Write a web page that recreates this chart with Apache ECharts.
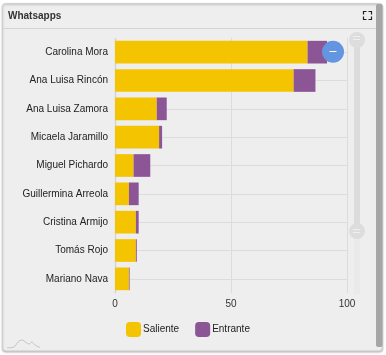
<!DOCTYPE html>
<html><head><meta charset="utf-8">
<style>html,body{margin:0;padding:0;background:#fff}#c{width:386px;height:355px}</style>
<script src="https://cdn.jsdelivr.net/npm/echarts@6/dist/echarts.min.js"></script>
</head><body><div id="c"></div>
<script>
const categories = ['Carolina Mora','Ana Luisa Rincón','Ana Luisa Zamora','Micaela Jaramillo','Miguel Pichardo','Guillermina Arreola','Cristina Armijo','Tomás Rojo','Mariano Nava'];
const saliente = [83,77,18,19,8,6,9,9,6];
const entrante = [8.4,9.4,4.3,1.3,7.2,4.2,1.2,0.4,0.3];
const xTicks = {min:0,max:100,interval:50};
const font = '"Liberation Sans", Arial, sans-serif';
const chart = echarts.init(document.getElementById('c'),null,{renderer:'canvas'});
chart.setOption({
  animation:false,
  backgroundColor:'#fff',
  textStyle:{fontFamily:font},
  title:{text:'Whatsapps',left:8,top:10,padding:0,textStyle:{fontFamily:font,fontSize:10,fontWeight:'bold',color:'#333',lineHeight:12}},
  legend:{bottom:18,left:126,padding:0,itemWidth:15,itemHeight:15,itemGap:16,selectedMode:false,
    data:['Saliente','Entrante'],
    itemStyle:{borderRadius:3},
    textStyle:{fontFamily:font,fontSize:10,color:'#222',padding:[0,0,0,-3]}},
  grid:{left:115,top:38,width:232,height:255,containLabel:false},
  xAxis:{type:'value',...xTicks,
    axisLine:{show:false},axisTick:{show:false},
    axisLabel:{fontFamily:font,fontSize:10,color:'#333',margin:6,hideOverlap:false,showMinLabel:true,showMaxLabel:true},
    splitLine:{show:true,lineStyle:{color:'#dcdcdc',width:1}}},
  yAxis:[
    {type:'category',data:categories,inverse:true,
     axisLine:{show:false},axisTick:{show:false},
     axisLabel:{fontFamily:font,fontSize:10,color:'#222',margin:7}},
    {type:'category',data:categories,inverse:true,show:false}
  ],
  dataZoom:[{type:'slider',yAxisIndex:1,filterMode:'none',start:0,end:75.7,orient:'vertical',
    left:354,width:6,top:38,bottom:62,
    showDetail:false,showDataShadow:false,brushSelect:false,moveHandleSize:0,
    realtime:false,
    backgroundColor:'#eaeaea',borderColor:'transparent',borderRadius:3,
    fillerColor:'#dcdcdc',
    handleIcon:'circle',handleSize:16,
    handleStyle:{color:'#dddddd',borderColor:'#dddddd',borderWidth:0}}],
  series:[
    {name:'grid',type:'line',data:[],silent:true,z:1,legendHoverLink:false,
     markLine:{silent:true,symbol:'none',animation:false,label:{show:false},z:1,
       lineStyle:{color:'#dcdcdc',type:'solid',width:1},
       data:categories.map(c=>({yAxis:c}))}},
    {name:'Saliente',type:'bar',stack:'m',data:saliente,barWidth:'80%',z:3,
     itemStyle:{color:'#f5c400'}},
    {name:'Entrante',type:'bar',stack:'m',data:entrante,barWidth:'80%',z:4,
     itemStyle:{color:'#8c5595'}}
  ],
  graphic:[
    {type:'rect',z:-10,silent:true,shape:{x:2.5,y:3.5,width:380,height:347.5,r:3},style:{fill:'#eeeeee',stroke:'#d0d0d0',lineWidth:1,shadowBlur:2,shadowOffsetY:1,shadowColor:'rgba(0,0,0,.25)'}},
    {type:'rect',z:-9,silent:true,shape:{x:376,y:4,width:6.5,height:343,r:2},style:{fill:'#a6a6a6'}},
    {type:'line',z:-8,silent:true,shape:{x1:3,y1:28.5,x2:376,y2:28.5},style:{stroke:'#d4d4d4',lineWidth:1}},
    {type:'line',z:2,silent:true,shape:{x1:115.5,y1:38,x2:115.5,y2:293},style:{stroke:'#d4d4d4',lineWidth:1.5}},
    {type:'circle',z:20,silent:true,shape:{cx:333,cy:51.7,r:11},style:{fill:'#6495e0'}},
    {type:'line',z:21,silent:true,shape:{x1:329.5,y1:51.5,x2:336.5,y2:51.5},style:{stroke:'#fff',lineWidth:1}},
    {type:'polyline',z:20,silent:true,shape:{points:[[363.5,14.5],[363.5,11.5],[366.5,11.5]]},style:{stroke:'#222',lineWidth:1.2,fill:null}},
    {type:'polyline',z:20,silent:true,shape:{points:[[368.5,11.5],[371.5,11.5],[371.5,14.5]]},style:{stroke:'#222',lineWidth:1.2,fill:null}},
    {type:'polyline',z:20,silent:true,shape:{points:[[363.5,16.5],[363.5,19.5],[366.5,19.5]]},style:{stroke:'#222',lineWidth:1.2,fill:null}},
    {type:'polyline',z:20,silent:true,shape:{points:[[368.5,19.5],[371.5,19.5],[371.5,16.5]]},style:{stroke:'#222',lineWidth:1.2,fill:null}},
    {type:'polyline',z:20,silent:true,shape:{smooth:0.4,points:[[7,347.5],[14,347],[18,342],[22,340],[26,342.5],[29,344],[32,342],[35,345],[40,347.5]]},style:{stroke:'#c4c4c4',lineWidth:1,fill:null}},
    {type:'line',z:30,silent:true,shape:{x1:353,y1:36.5,x2:360,y2:36.5},style:{stroke:'#f0f0f0',lineWidth:1}},
    {type:'line',z:30,silent:true,shape:{x1:353,y1:39.5,x2:360,y2:39.5},style:{stroke:'#f0f0f0',lineWidth:1}},
    {type:'line',z:30,silent:true,shape:{x1:353,y1:229.5,x2:360,y2:229.5},style:{stroke:'#f0f0f0',lineWidth:1}},
    {type:'line',z:30,silent:true,shape:{x1:353,y1:232.5,x2:360,y2:232.5},style:{stroke:'#f0f0f0',lineWidth:1}}
  ]
});
</script></body></html>
